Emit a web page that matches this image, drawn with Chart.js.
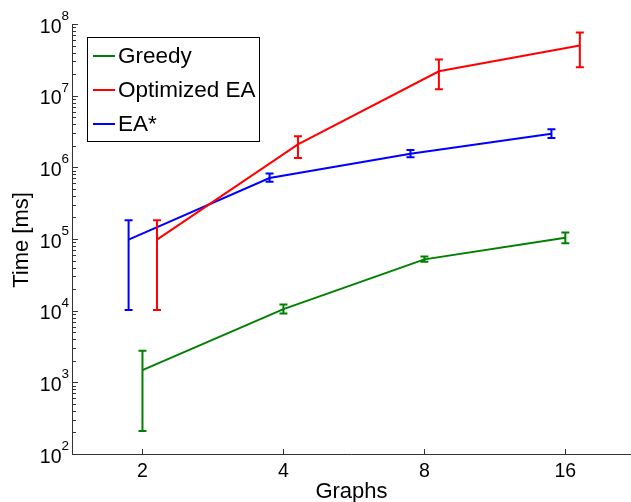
<!DOCTYPE html>
<html>
<head>
<meta charset="utf-8">
<script src="https://cdn.jsdelivr.net/npm/chart.js@4.4.1/dist/chart.umd.min.js"></script>
<style>
  html, body { margin: 0; padding: 0; background: #fff; overflow: hidden; }
</style>
</head>
<body>
<canvas id="timeChart" width="631" height="502"></canvas>
<script>
// Graph counts and measured times (ms), with error bar bounds
const graphs = [2, 4, 8, 16];

const greedy   = [1480, 10500, 52000, 104000];
const greedyLo = [210, 9100, 48000, 87000];
const greedyHi = [2750, 12200, 57000, 123000];

const optEA   = [98000, 2.09e6, 2.19e7, 5.0e7];
const optEALo = [10200, 1.35e6, 1.23e7, 2.5e7];
const optEAHi = [182000, 2.72e6, 3.2e7, 7.6e7];

const eaStar   = [98000, 7.1e5, 1.55e6, 2.95e6];
const eaStarLo = [10200, 6.3e5, 1.38e6, 2.57e6];
const eaStarHi = [182000, 8.2e5, 1.74e6, 3.4e6];

const xTicks = [2, 4, 8, 16];
const yExponents = [2, 3, 4, 5, 6, 7, 8];

// small horizontal shift so the error bars don't overlap
const dodge = { greedy: 1, optEA: 1.074, eaStar: 0.934 };

const FONT = '"Liberation Sans", Arial, sans-serif';
const AXIS = '#333';

function pts(vals, k) {
    return graphs.map((g, i) => ({ x: g * k, y: vals[i] }));
}

function series(label, vals, lo, hi, k, color) {
    return {
        label: label,
        data: pts(vals, k),
        errLo: lo,
        errHi: hi,
        borderColor: color,
        backgroundColor: color,
        borderWidth: 2,
        pointRadius: 0,
        tension: 0,
        showLine: true,
        fill: false,
        clip: false
    };
}

const errorBars = {
    id: 'errorBars',
    afterDatasetsDraw(chart) {
        const ctx = chart.ctx;
        const xs = chart.scales.x, ys = chart.scales.y;
        chart.data.datasets.forEach(ds => {
            ctx.save();
            ctx.strokeStyle = ds.borderColor;
            ctx.lineWidth = 2;
            ds.data.forEach((p, i) => {
                const x = xs.getPixelForValue(p.x);
                const y1 = ys.getPixelForValue(ds.errLo[i]);
                const y2 = ys.getPixelForValue(ds.errHi[i]);
                ctx.beginPath();
                ctx.moveTo(x, y1); ctx.lineTo(x, y2);
                ctx.moveTo(x - 4, y1); ctx.lineTo(x + 4, y1);
                ctx.moveTo(x - 4, y2); ctx.lineTo(x + 4, y2);
                ctx.stroke();
            });
            ctx.restore();
        });
    }
};

const axesDecor = {
    id: 'axesDecor',
    afterDraw(chart) {
        const ctx = chart.ctx;
        const a = chart.chartArea;
        const xs = chart.scales.x, ys = chart.scales.y;
        ctx.save();
        ctx.strokeStyle = AXIS;
        ctx.fillStyle = '#000';
        ctx.lineWidth = 1;

        // axis lines
        ctx.beginPath();
        ctx.moveTo(a.left + 0.5, a.top);
        ctx.lineTo(a.left + 0.5, a.bottom + 0.5);
        ctx.lineTo(a.right, a.bottom + 0.5);
        ctx.stroke();

        // y ticks (major + minor), pointing inward
        ctx.beginPath();
        yExponents.forEach(e => {
            const y = Math.round(ys.getPixelForValue(Math.pow(10, e))) + 0.5;
            ctx.moveTo(a.left, y); ctx.lineTo(a.left + 6, y);
            if (e < 8) {
                for (let m = 2; m <= 9; m++) {
                    const ym = Math.round(ys.getPixelForValue(m * Math.pow(10, e))) + 0.5;
                    ctx.moveTo(a.left, ym); ctx.lineTo(a.left + 4, ym);
                }
            }
        });
        // x ticks
        xTicks.forEach(t => {
            const x = Math.round(xs.getPixelForValue(t)) + 0.5;
            ctx.moveTo(x, a.bottom); ctx.lineTo(x, a.bottom - 5);
        });
        ctx.stroke();

        // y tick labels 10^n
        ctx.textBaseline = 'alphabetic';
        ctx.textAlign = 'right';
        yExponents.forEach(e => {
            const y = ys.getPixelForValue(Math.pow(10, e));
            ctx.font = '13.5px ' + FONT;
            const sup = String(e);
            const w = ctx.measureText(sup).width;
            ctx.fillText(sup, a.left - 3, y - 4);
            ctx.font = '19.5px ' + FONT;
            ctx.fillText('10', a.left - 3 - w, y + 8.5);
        });

        // x tick labels
        ctx.textAlign = 'center';
        ctx.font = '19.5px ' + FONT;
        xTicks.forEach(t => {
            ctx.fillText(String(t), xs.getPixelForValue(t), 477);
        });

        // axis titles
        ctx.font = '22px ' + FONT;
        ctx.fillText('Graphs', (a.left + a.right) / 2, 498);
        ctx.save();
        ctx.translate(28, 240);
        ctx.rotate(-Math.PI / 2);
        ctx.fillText('Time [ms]', 0, 0);
        ctx.restore();

        // legend
        ctx.fillStyle = '#fff';
        ctx.fillRect(88, 38, 172, 104);
        ctx.strokeStyle = '#000';
        ctx.strokeRect(87.5, 37.5, 172, 104);
        ctx.font = '22.5px ' + FONT;
        ctx.textAlign = 'left';
        ctx.textBaseline = 'middle';
        chart.data.datasets.forEach((ds, i) => {
            const y = 56 + i * 34;
            ctx.strokeStyle = ds.borderColor;
            ctx.lineWidth = 2;
            ctx.beginPath();
            ctx.moveTo(93, y); ctx.lineTo(115, y);
            ctx.stroke();
            ctx.fillStyle = '#000';
            ctx.fillText(ds.label, 118, y + 1);
        });
        ctx.restore();
    }
};

new Chart(document.getElementById('timeChart'), {
    type: 'scatter',
    data: {
        datasets: [
            series('Greedy', greedy, greedyLo, greedyHi, dodge.greedy, '#008000'),
            series('Optimized EA', optEA, optEALo, optEAHi, dodge.optEA, '#ff0000'),
            series('EA*', eaStar, eaStarLo, eaStarHi, dodge.eaStar, '#0000ff')
        ]
    },
    options: {
        responsive: false,
        animation: false,
        events: [],
        layout: { padding: { left: 72, top: 24, right: 0, bottom: 48 } },
        scales: {
            x: { type: 'logarithmic', min: Math.SQRT2, max: 22.1, display: false },
            y: { type: 'logarithmic', min: 100, max: 1e8, display: false }
        },
        plugins: {
            legend: { display: false },
            tooltip: { enabled: false }
        }
    },
    plugins: [errorBars, axesDecor]
});
</script>
</body>
</html>
